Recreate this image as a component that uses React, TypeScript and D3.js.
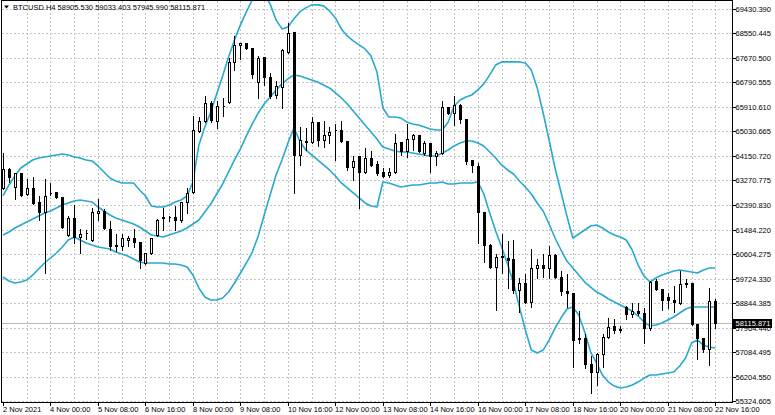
import React from "react";
import * as d3 from "d3";

// BTCUSD H4 bars, 2 Nov 16:00 .. 22 Nov 16:00 (121 bars)
const opens = [
  62990, 63674, 63026, 63530, 62774, 62990, 62486, 62126, 62810, 62846,
  62666, 61298, 61910, 61226, 61370, 61118, 62090, 62162, 61514, 60938,
  60902, 61118, 61190, 61046, 60290, 60650, 61298, 61910, 61946, 61946,
  61838, 62486, 62846, 65042, 65402, 66050, 65402, 65942, 66086, 67526,
  68138, 68210, 68030, 66806, 67706, 66986, 66338, 66626, 67886, 68606,
  64178, 64646, 64646, 65366, 64718, 64898, 65078, 65078, 64682, 63746,
  64142, 63566, 64070, 63854, 63566, 63458, 63566, 64646, 64322, 64754,
  64898, 64250, 64610, 64142, 64250, 65906, 65690, 65978, 65474, 63998,
  63782, 62126, 60938, 60146, 60542, 60470, 60434, 59318, 59570, 58886,
  60110, 60218, 60110, 60578, 59786, 59282, 59210, 57554, 57590, 56654,
  56366, 57014, 57626, 58022, 57914, 58706, 58454, 58562, 58490, 57950,
  59642, 59354, 59066, 58958, 58850, 59570, 59570, 58094, 57590, 57194,
  58905.53,
];
const highs = [
  64286, 63746, 63566, 63566, 63350, 63422, 62738, 63350, 63206, 62882,
  62702, 62018, 62414, 61550, 61514, 62306, 62630, 62270, 61838, 61370,
  61370, 61298, 61550, 61082, 60686, 61226, 61910, 62306, 62018, 62378,
  62522, 63026, 65618, 65582, 66338, 66158, 66158, 66266, 67706, 68498,
  68246, 68240, 68066, 67778, 67742, 67166, 66878, 68030, 68966, 68642,
  65222, 65186, 65582, 65402, 65438, 65222, 65330, 65438, 64718, 64178,
  64178, 64466, 64358, 63998, 63746, 63746, 64970, 64682, 65330, 64970,
  64934, 64718, 64646, 64358, 66158, 65942, 66338, 66050, 65510, 64034,
  63926, 62162, 61010, 60650, 61370, 61118, 61154, 59786, 59930, 60830,
  60470, 60650, 60938, 60650, 60038, 59930, 59246, 58598, 57770, 56978,
  57086, 57770, 58346, 58310, 58058, 58778, 58886, 58886, 58706, 59678,
  59750, 59390, 59246, 59498, 60038, 59750, 59606, 58130, 57626, 59426,
  59033.403,
];
const lows = [
  62954, 63206, 62594, 62702, 62738, 62414, 61838, 59930, 62738, 62630,
  61550, 61262, 61010, 60650, 61154, 61082, 61838, 61514, 60758, 60722,
  60758, 60902, 60866, 60110, 60254, 60614, 61262, 61478, 61802, 61478,
  61766, 62090, 62810, 65006, 65366, 65366, 65150, 65582, 66050, 67238,
  67634, 68000, 66950, 66230, 66698, 66230, 66230, 65870, 67850, 62810,
  63818, 64358, 64610, 64502, 64466, 64610, 64002, 64646, 63638, 63278,
  62270, 63530, 63782, 63458, 63386, 63386, 63530, 64178, 64106, 64358,
  64286, 64178, 63566, 63818, 64214, 65654, 65258, 65330, 63854, 63566,
  61010, 60326, 60110, 58598, 59930, 59390, 59210, 58526, 58850, 58706,
  59750, 59786, 59750, 59750, 59138, 58706, 56546, 57410, 56510, 55610,
  55898, 56546, 57590, 57770, 57806, 58274, 58346, 58418, 57410, 57878,
  59318, 58598, 58670, 58526, 58814, 59426, 58058, 56834, 57086, 56618,
  57945.99,
];
const closes = [
  63674, 63386, 63530, 62738, 62990, 62450, 62126, 62702, 62792, 62666,
  61586, 61910, 61226, 61334, 61352, 62126, 62162, 61550, 60902, 60920,
  61190, 61208, 61046, 60398, 60650, 61190, 61838, 61946, 61928, 61838,
  62486, 62810, 65078, 65402, 66050, 65438, 65942, 65924, 67526, 68138,
  68210, 68030, 67094, 67670, 66986, 66302, 66662, 67958, 68570, 64178,
  64718, 64682, 65366, 64718, 64898, 65006, 65060, 64682, 63746, 63962,
  63566, 64070, 63818, 63530, 63422, 63566, 64610, 64322, 64754, 64898,
  64322, 64610, 64142, 64250, 65906, 65690, 65978, 65474, 63962, 63818,
  62126, 60938, 60146, 60506, 60524, 60398, 59318, 59570, 58886, 60110,
  60218, 60110, 60578, 59786, 59282, 59210, 57518, 57590, 56654, 56366,
  57014, 57626, 57986, 57878, 57896, 58454, 58562, 58490, 57950, 59606,
  59354, 58958, 58958, 58886, 59534, 59552, 58094, 57590, 57194, 58922,
  58115.871,
];

// Bollinger bands
const bbUpper = [
  62702, 63098, 63422, 63710, 63854, 63998, 64070, 64106, 64142, 64178,
  64214, 64178, 64106, 64070, 63998, 63962, 63782, 63566, 63350, 63242,
  63170, 63170, 63170, 62918, 62702, 62342, 62306, 62306, 62378, 62486,
  62558, 62702, 63206, 64538, 65186, 65726, 66374, 67022, 67706, 68318,
  68858, 69326, 69758, 70118, 69974, 69614, 69038, 68714, 68786, 69074,
  69326, 69470, 69578, 69578, 69542, 69362, 69110, 68714, 68462, 68282,
  68138, 67994, 67742, 67166, 65870, 65546, 65546, 65510, 65366, 65294,
  65258, 65186, 65114, 65078, 65078, 65366, 65942, 66158, 66266, 66338,
  66518, 66734, 67058, 67418, 67526, 67526, 67526, 67526, 67490, 67238,
  66590, 65690, 64718, 63710, 62846, 61982, 61190, 61334, 61478, 61622,
  61658, 61550, 61406, 61298, 61226, 61118, 60758, 60218, 59822, 59606,
  59750, 59858, 59930, 60002, 60038, 60002, 59966, 59930, 60038, 60110,
  60110,
];
const bbMiddle = [
  61298, 61406, 61550, 61658, 61766, 61874, 61982, 62090, 62162, 62270,
  62378, 62450, 62522, 62558, 62522, 62486, 62306, 62162, 62018, 61910,
  61838, 61766, 61694, 61586, 61442, 61298, 61262, 61226, 61298, 61370,
  61442, 61550, 61694, 61838, 62126, 62414, 62774, 63134, 63566, 63998,
  64394, 64862, 65294, 65690, 66014, 66266, 66518, 66734, 66914, 67058,
  67022, 66950, 66878, 66806, 66698, 66590, 66410, 66230, 66014, 65762,
  65510, 65258, 65006, 64754, 64466, 64394, 64322, 64286, 64286, 64250,
  64214, 64178, 64142, 64142, 64250, 64358, 64502, 64610, 64682, 64682,
  64610, 64502, 64286, 64070, 63818, 63638, 63494, 63242, 63026, 62774,
  62450, 62162, 61694, 61190, 60758, 60362, 60110, 59858, 59606, 59426,
  59246, 59138, 58994, 58886, 58778, 58670, 58562, 58382, 58166, 58022,
  58058, 58130, 58238, 58346, 58490, 58634, 58706, 58706, 58706, 58706,
  58706,
];
const bbLower = [
  59786, 59642, 59570, 59606, 59678, 59858, 60074, 60290, 60470, 60650,
  60866, 61118, 61226, 61118, 61010, 60938, 60866, 60830, 60794, 60686,
  60614, 60542, 60434, 60326, 60290, 60290, 60290, 60290, 60254, 60254,
  60218, 60146, 59858, 59390, 59066, 58958, 58958, 59030, 59246, 59570,
  59930, 60290, 60686, 61262, 62018, 62738, 63458, 63998, 64610, 65150,
  64682, 64358, 64178, 63998, 63818, 63638, 63422, 63170, 62990, 62810,
  62630, 62450, 62342, 62306, 63206, 63170, 63098, 63026, 63062, 63098,
  63098, 63134, 63170, 63170, 63206, 63134, 63134, 63170, 63170, 63170,
  63206, 62774, 62090, 61442, 60866, 60254, 59570, 58706, 57878, 57158,
  57050, 57158, 57518, 57950, 58310, 58634, 58706, 58418, 57806, 57086,
  56690, 56258, 56006, 55862, 55790, 55826, 55898, 56006, 56150, 56258,
  56258, 56294, 56330, 56366, 56582, 56870, 57410, 57518, 57338, 57266,
  57230,
];

const priceTicks = [
  "69430.390", "68550.445", "67670.500", "66790.555", "65910.610", "65030.665",
  "64150.720", "63270.775", "62390.830", "61484.220", "60604.275", "59724.330",
  "58844.385", "57964.440", "57084.495", "56204.550", "55324.605",
];
const timeLabels = [
  "2 Nov 2021", "4 Nov 00:00", "5 Nov 08:00", "6 Nov 16:00", "8 Nov 00:00",
  "9 Nov 08:00", "10 Nov 16:00", "12 Nov 00:00", "13 Nov 08:00", "14 Nov 16:00",
  "16 Nov 00:00", "17 Nov 08:00", "18 Nov 16:00", "20 Nov 00:00", "21 Nov 08:00",
  "22 Nov 16:00",
];
const symbol = "BTCUSD.H4";

const W = 775;
const H = 415;
const plot = { left: 1.5, right: 732.5, top: 0.5, bottom: 402.5 };
const FONT = "'Liberation Sans', Arial, sans-serif";
const BAND = "#27a9d0";
const GRID = "#c4c4c4";

const App = () => {
  const n = closes.length;
  const x = d3.scaleLinear().domain([0, n - 1]).range([3, 715.3]);
  const y = d3.scaleLinear().domain([55324.605, 69430.39]).range([401, 9]);
  const px = (i: number) => Math.round(x(i)) + 0.5;
  const py = (v: number) => Math.round(y(v)) + 0.5;

  const bandLine = d3
    .line<number>()
    .x((d, i) => x(i))
    .y(d => y(d));

  const last = closes[n - 1];
  const lastY = py(last);

  return (
    <>
      <style>{"body{margin:0}"}</style>
      <svg width={W} height={H} style={{ display: "block", background: "#fff" }} fontFamily={FONT}>
        <defs>
          <clipPath id="plotClip">
            <rect x={plot.left} y={plot.top} width={plot.right - plot.left} height={plot.bottom - plot.top} />
          </clipPath>
        </defs>

        {/* grid */}
        <g stroke={GRID} strokeWidth={1} strokeDasharray="2,2" shapeRendering="crispEdges">
          {priceTicks.map(t => (
            <line key={t} x1={plot.left} x2={plot.right} y1={py(+t)} y2={py(+t)} />
          ))}
          {d3.range(4, n, 4).map(i => (
            <line key={i} x1={px(i)} x2={px(i)} y1={plot.top} y2={plot.bottom} />
          ))}
        </g>

        {/* last price line */}
        <line x1={plot.left} x2={plot.right} y1={lastY} y2={lastY} stroke="#b8b8b8" strokeWidth={1} shapeRendering="crispEdges" />

        {/* bollinger bands */}
        <g clipPath="url(#plotClip)" fill="none" stroke={BAND} strokeWidth={1.6} strokeLinejoin="round">
          <path d={bandLine(bbUpper) || ""} />
          <path d={bandLine(bbMiddle) || ""} />
          <path d={bandLine(bbLower) || ""} />
        </g>

        {/* candles */}
        <g shapeRendering="crispEdges">
          {closes.map((c, i) => {
            const o = opens[i];
            const cx = px(i);
            const top = py(Math.max(o, c));
            const bot = py(Math.min(o, c));
            const up = c >= o;
            return (
              <g key={i}>
                <line x1={cx} x2={cx} y1={py(highs[i])} y2={py(lows[i])} stroke="#000" />
                {bot - top < 1 ? (
                  <line x1={cx - 1} x2={cx + 1} y1={top} y2={top} stroke="#000" />
                ) : (
                  <rect x={cx - 1} y={top} width={2} height={bot - top} fill={up ? "#fff" : "#000"} stroke="#000" />
                )}
              </g>
            );
          })}
        </g>

        {/* frame */}
        <rect x={plot.left} y={plot.top} width={plot.right - plot.left} height={plot.bottom - plot.top} fill="none" stroke="#000" shapeRendering="crispEdges" />

        {/* price axis */}
        <g fontSize={7.5} fill="#000">
          {priceTicks.map(t => (
            <g key={t}>
              <line x1={plot.right} x2={plot.right + 3} y1={py(+t)} y2={py(+t)} stroke="#000" shapeRendering="crispEdges" />
              <text x={plot.right + 3} y={py(+t)} dy="0.35em">{t}</text>
            </g>
          ))}
        </g>
        <rect x={plot.right + 0.5} y={lastY - 4.5} width={39} height={9} fill="#000" />
        <text x={plot.right + 3} y={lastY} dy="0.35em" fontSize={7.5} fill="#fff">
          {last.toFixed(3)}
        </text>

        {/* time axis */}
        <g fontSize={7.5} fill="#000">
          {timeLabels.map((t, k) => {
            const i = k * 8;
            return (
              <g key={t}>
                <line x1={px(i)} x2={px(i)} y1={plot.bottom} y2={plot.bottom + 3} stroke="#000" shapeRendering="crispEdges" />
                <text x={px(i) - 0.5} y={412}>{t}</text>
              </g>
            );
          })}
        </g>

        {/* header */}
        <path d="M4,5.5 L9,5.5 L6.5,8.5 Z" fill="#000" />
        <text x={13} y={10} fontSize={7.5} fill="#000">
          {`${symbol}  ${opens[n - 1].toFixed(3)} ${highs[n - 1].toFixed(3)} ${lows[n - 1].toFixed(3)} ${last.toFixed(3)}`}
        </text>
      </svg>
    </>
  );
};

export default App;
